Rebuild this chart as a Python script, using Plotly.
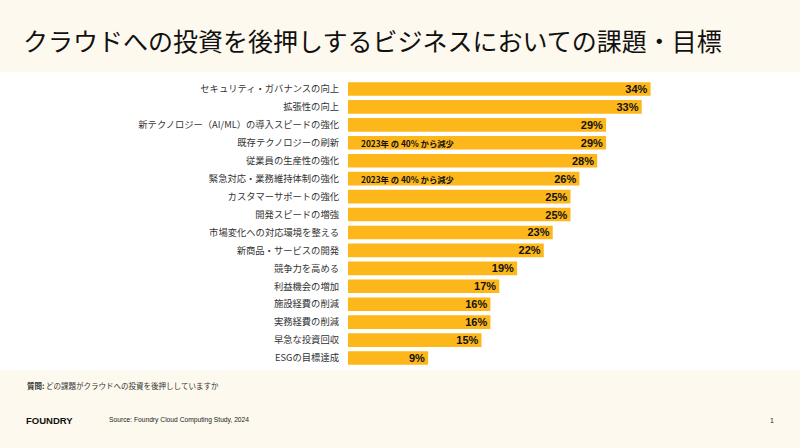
import plotly.graph_objects as go

categories = [
    "セキュリティ・ガバナンスの向上",
    "拡張性の向上",
    "新テクノロジー（AI/ML）の導入スピードの強化",
    "既存テクノロジーの刷新",
    "従業員の生産性の強化",
    "緊急対応・業務維持体制の強化",
    "カスタマーサポートの強化",
    "開発スピードの増強",
    "市場変化への対応環境を整える",
    "新商品・サービスの開発",
    "競争力を高める",
    "利益機会の増加",
    "施設経費の削減",
    "実務経費の削減",
    "早急な投資回収",
    "ESGの目標達成",
]
values = [34, 33, 29, 29, 28, 26, 25, 25, 23, 22, 19, 17, 16, 16, 15, 9]
notes = {"既存テクノロジーの刷新": "2023年 の 40% から減少",
         "緊急対応・業務維持体制の強化": "2023年 の 40% から減少"}

FONT = "Noto Sans CJK JP"
BAR = "#FDB71A"
CREAM = "#FEF9EE"

L, R, T, B = 348, 96, 80, 81
PW, PH = 800 - L - R, 448 - T - B

fig = go.Figure()
fig.add_trace(go.Bar(
    x=values, y=categories, orientation="h",
    marker=dict(color=BAR, line=dict(width=0)),
    text=[f"<b>{v}%</b>" for v in values],
    textposition="inside", insidetextanchor="end", constraintext="none",
    textfont=dict(family="Liberation Sans, Arial", size=11, color="#111111"),
    hoverinfo="skip", width=0.76,
))

for cat, txt in notes.items():
    fig.add_annotation(x=0, y=cat, xref="x", yref="y", text=f"<b>{txt}</b>",
                       showarrow=False, xanchor="left", xshift=11,
                       font=dict(family=FONT, size=8.3, color="#111111"))

fig.update_layout(
    width=800, height=448,
    margin=dict(l=L, r=R, t=T, b=B),
    paper_bgcolor="white", plot_bgcolor="white",
    showlegend=False,
    xaxis=dict(range=[0, 40], visible=False, fixedrange=True),
    yaxis=dict(autorange="reversed", showgrid=False, zeroline=False, showline=False,
               ticks="", ticklabelstandoff=8, fixedrange=True,
               tickfont=dict(family=FONT, size=9.3, color="#333333")),
    font=dict(family=FONT),
)


def px_x(px):
    return (px - L) / PW


def px_y(py):
    return (448 - B - py) / PH


# header and footer bands
fig.add_shape(type="rect", xref="paper", yref="paper",
              x0=px_x(-2), x1=px_x(802), y0=px_y(72), y1=px_y(-2),
              fillcolor=CREAM, line=dict(width=0), layer="below")
fig.add_shape(type="rect", xref="paper", yref="paper",
              x0=px_x(-2), x1=px_x(802), y0=px_y(450), y1=px_y(370),
              fillcolor=CREAM, line=dict(width=0), layer="below")

fig.add_annotation(x=px_x(21), y=px_y(40), xref="paper", yref="paper",
                   text="クラウドへの投資を後押しするビジネスにおいての課題・目標",
                   showarrow=False, xanchor="left", yanchor="middle",
                   font=dict(family=FONT, size=25, color="#111111"))
fig.add_annotation(x=px_x(25), y=px_y(385), xref="paper", yref="paper",
                   text="<b>質問:</b> どの課題がクラウドへの投資を後押ししていますか",
                   showarrow=False, xanchor="left", yanchor="middle",
                   font=dict(family=FONT, size=7.5, color="#333333"))
fig.add_annotation(x=px_x(24), y=px_y(420), xref="paper", yref="paper",
                   text="<b>FOUNDRY</b>",
                   showarrow=False, xanchor="left", yanchor="middle",
                   font=dict(family="Liberation Sans, Arial", size=9.5, color="#111111"))
fig.add_annotation(x=px_x(107), y=px_y(420), xref="paper", yref="paper",
                   text="Source: Foundry Cloud Computing Study, 2024",
                   showarrow=False, xanchor="left", yanchor="middle",
                   font=dict(family="Liberation Sans, Arial", size=6.7, color="#222222"))
fig.add_annotation(x=px_x(772), y=px_y(420), xref="paper", yref="paper",
                   text="1",
                   showarrow=False, xanchor="center", yanchor="middle",
                   font=dict(family="Liberation Sans, Arial", size=7, color="#222222"))

fig.write_html("out.html", config={"displayModeBar": False, "staticPlot": True},
               post_script="document.body.style.margin='0';document.body.style.overflow='hidden';")
